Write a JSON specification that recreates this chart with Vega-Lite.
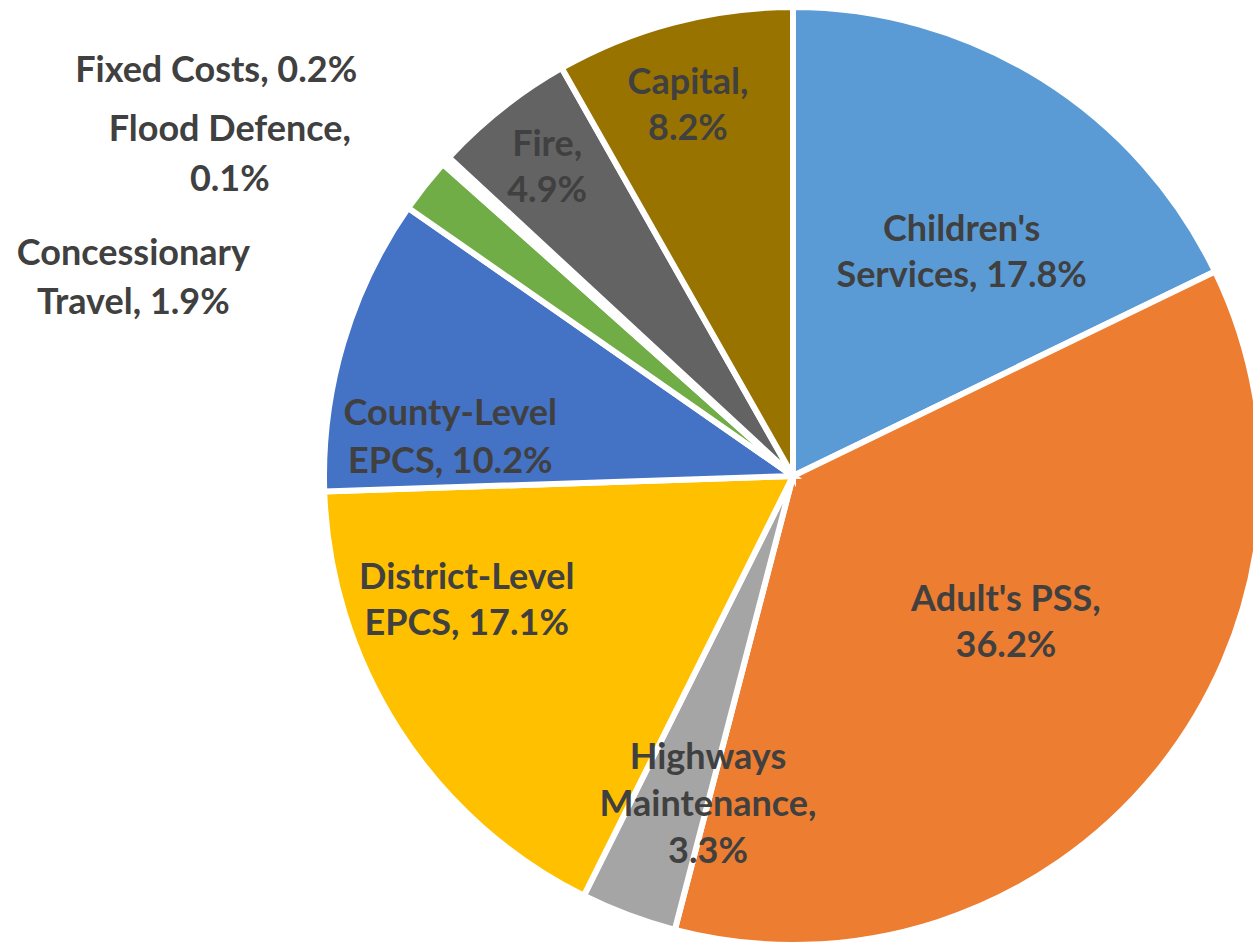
{
  "$schema": "https://vega.github.io/schema/vega-lite/v6.json",
  "width": 938,
  "height": 938,
  "autosize": "none",
  "padding": {"left": 324, "top": 7, "right": 0, "bottom": 0},
  "background": "white",
  "config": {"view": {"stroke": null}},
  "data": {
    "values": [
      {"i": 1, "name": "Children's Services", "value": 17.8, "label": "Children's\nServices, 17.8%"},
      {"i": 2, "name": "Adult's PSS", "value": 36.2, "label": "Adult's PSS,\n36.2%"},
      {"i": 3, "name": "Highways Maintenance", "value": 3.3, "label": "Highways\nMaintenance,\n3.3%"},
      {"i": 4, "name": "District-Level EPCS", "value": 17.1, "label": "District-Level\nEPCS, 17.1%"},
      {"i": 5, "name": "County-Level EPCS", "value": 10.2, "label": "County-Level\nEPCS, 10.2%"},
      {"i": 6, "name": "Concessionary Travel", "value": 1.9, "label": "Concessionary\nTravel, 1.9%"},
      {"i": 7, "name": "Flood Defence", "value": 0.1, "label": "Flood Defence,\n0.1%"},
      {"i": 8, "name": "Fixed Costs", "value": 0.2, "label": "Fixed Costs, 0.2%"},
      {"i": 9, "name": "Fire", "value": 4.9, "label": "Fire,\n4.9%"},
      {"i": 10, "name": "Capital", "value": 8.2, "label": "Capital,\n8.2%"}
    ]
  },
  "encoding": {
    "theta": {"field": "value", "type": "quantitative", "stack": true},
    "order": {"field": "i", "type": "quantitative"}
  },
  "layer": [
    {
      "mark": {"type": "arc", "stroke": "white", "strokeWidth": 6},
      "encoding": {
        "color": {
          "field": "name", "type": "nominal", "legend": null, "sort": null,
          "scale": {
            "domain": ["Children's Services", "Adult's PSS", "Highways Maintenance", "District-Level EPCS", "County-Level EPCS", "Concessionary Travel", "Flood Defence", "Fixed Costs", "Fire", "Capital"],
            "range": ["#5B9BD5", "#ED7D31", "#A5A5A5", "#FFC000", "#4472C4", "#70AD47", "#264478", "#9E480E", "#636363", "#997300"]
          }
        }
      }
    },
    {"mark": {"type": "text", "radius": 281, "thetaOffset": 0.084, "dy": -21, "font": "Lato", "fontWeight": "bold", "fontSize": 36, "color": "#404040", "lineBreak": "\n", "lineHeight": 46},
     "encoding": {"text": {"condition": {"test": "datum.i === 1", "field": "label"}, "value": ""}}},
    {"mark": {"type": "text", "radius": 258, "thetaOffset": -0.087, "dy": -22, "font": "Lato", "fontWeight": "bold", "fontSize": 36, "color": "#404040", "lineBreak": "\n", "lineHeight": 46},
     "encoding": {"text": {"condition": {"test": "datum.i === 2", "field": "label"}, "value": ""}}},
    {"mark": {"type": "text", "radius": 339, "thetaOffset": -0.105, "dy": -46, "font": "Lato", "fontWeight": "bold", "fontSize": 36, "color": "#404040", "lineBreak": "\n", "lineHeight": 47},
     "encoding": {"text": {"condition": {"test": "datum.i === 3", "field": "label"}, "value": ""}}},
    {"mark": {"type": "text", "radius": 349, "thetaOffset": 0.208, "dy": -22, "font": "Lato", "fontWeight": "bold", "fontSize": 36, "color": "#404040", "lineBreak": "\n", "lineHeight": 46},
     "encoding": {"text": {"condition": {"test": "datum.i === 4", "field": "label"}, "value": ""}}},
    {"mark": {"type": "text", "radius": 345, "thetaOffset": -0.172, "dy": -22, "font": "Lato", "fontWeight": "bold", "fontSize": 36, "color": "#404040", "lineBreak": "\n", "lineHeight": 48},
     "encoding": {"text": {"condition": {"test": "datum.i === 5", "field": "label"}, "value": ""}}},
    {"mark": {"type": "text", "radius": 689, "thetaOffset": -0.375, "dy": -23, "font": "Lato", "fontWeight": "bold", "fontSize": 36, "color": "#404040", "lineBreak": "\n", "lineHeight": 49},
     "encoding": {"text": {"condition": {"test": "datum.i === 6", "field": "label"}, "value": ""}}},
    {"mark": {"type": "text", "radius": 649, "thetaOffset": -0.211, "dy": -23, "font": "Lato", "fontWeight": "bold", "fontSize": 36, "color": "#404040", "lineBreak": "\n", "lineHeight": 50},
     "encoding": {"text": {"condition": {"test": "datum.i === 7", "field": "label"}, "value": ""}}},
    {"mark": {"type": "text", "radius": 706, "thetaOffset": -0.126, "dy": 2, "font": "Lato", "fontWeight": "bold", "fontSize": 36, "color": "#404040", "lineBreak": "\n", "lineHeight": 46},
     "encoding": {"text": {"condition": {"test": "datum.i === 8", "field": "label"}, "value": ""}}},
    {"mark": {"type": "text", "radius": 396, "thetaOffset": 0, "dy": -21, "font": "Lato", "fontWeight": "bold", "fontSize": 36, "color": "#404040", "lineBreak": "\n", "lineHeight": 46},
     "encoding": {"text": {"condition": {"test": "datum.i === 9", "field": "label"}, "value": ""}}},
    {"mark": {"type": "text", "radius": 387, "thetaOffset": -0.017, "dy": -21, "font": "Lato", "fontWeight": "bold", "fontSize": 36, "color": "#404040", "lineBreak": "\n", "lineHeight": 46},
     "encoding": {"text": {"condition": {"test": "datum.i === 10", "field": "label"}, "value": ""}}}
  ]
}
